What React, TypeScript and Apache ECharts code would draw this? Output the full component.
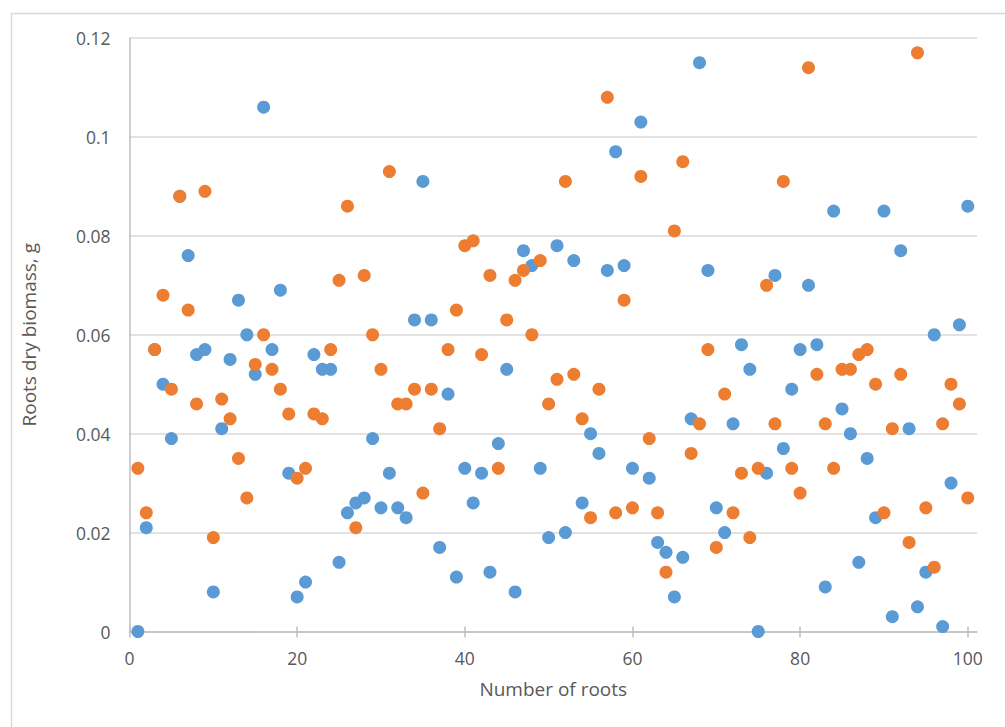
import { useEffect, useRef } from "react";
import * as echarts from "echarts";

const rootNumbers = [
  1, 2, 3, 4, 5, 6, 7, 8, 9, 10, 11, 12, 13, 14, 15, 16, 17, 18, 19, 20,
  21, 22, 23, 24, 25, 26, 27, 28, 29, 30, 31, 32, 33, 34, 35, 36, 37, 38, 39, 40,
  41, 42, 43, 44, 45, 46, 47, 48, 49, 50, 51, 52, 53, 54, 55, 56, 57, 58, 59, 60,
  61, 62, 63, 64, 65, 66, 67, 68, 69, 70, 71, 72, 73, 74, 75, 76, 77, 78, 79, 80,
  81, 82, 83, 84, 85, 86, 87, 88, 89, 90, 91, 92, 93, 94, 95, 96, 97, 98, 99, 100,
];

const blueBiomass = [
  0, 0.021, 0.057, 0.05, 0.039, 0.088, 0.076, 0.056, 0.057, 0.008,
  0.041, 0.055, 0.067, 0.06, 0.052, 0.106, 0.057, 0.069, 0.032, 0.007,
  0.01, 0.056, 0.053, 0.053, 0.014, 0.024, 0.026, 0.027, 0.039, 0.025,
  0.032, 0.025, 0.023, 0.063, 0.091, 0.063, 0.017, 0.048, 0.011, 0.033,
  0.026, 0.032, 0.012, 0.038, 0.053, 0.008, 0.077, 0.074, 0.033, 0.019,
  0.078, 0.02, 0.075, 0.026, 0.04, 0.036, 0.073, 0.097, 0.074, 0.033,
  0.103, 0.031, 0.018, 0.016, 0.007, 0.015, 0.043, 0.115, 0.073, 0.025,
  0.02, 0.042, 0.058, 0.053, 0, 0.032, 0.072, 0.037, 0.049, 0.057,
  0.07, 0.058, 0.009, 0.085, 0.045, 0.04, 0.014, 0.035, 0.023, 0.085,
  0.003, 0.077, 0.041, 0.005, 0.012, 0.06, 0.001, 0.03, 0.062, 0.086,
];

const orangeBiomass = [
  0.033, 0.024, 0.057, 0.068, 0.049, 0.088, 0.065, 0.046, 0.089, 0.019,
  0.047, 0.043, 0.035, 0.027, 0.054, 0.06, 0.053, 0.049, 0.044, 0.031,
  0.033, 0.044, 0.043, 0.057, 0.071, 0.086, 0.021, 0.072, 0.06, 0.053,
  0.093, 0.046, 0.046, 0.049, 0.028, 0.049, 0.041, 0.057, 0.065, 0.078,
  0.079, 0.056, 0.072, 0.033, 0.063, 0.071, 0.073, 0.06, 0.075, 0.046,
  0.051, 0.091, 0.052, 0.043, 0.023, 0.049, 0.108, 0.024, 0.067, 0.025,
  0.092, 0.039, 0.024, 0.012, 0.081, 0.095, 0.036, 0.042, 0.057, 0.017,
  0.048, 0.024, 0.032, 0.019, 0.033, 0.07, 0.042, 0.091, 0.033, 0.028,
  0.114, 0.052, 0.042, 0.033, 0.053, 0.053, 0.056, 0.057, 0.05, 0.024,
  0.041, 0.052, 0.018, 0.117, 0.025, 0.013, 0.042, 0.05, 0.046, 0.027,
];

const xTickValues = [0, 20, 40, 60, 80, 100];
const xAxisTitle = "Number of roots";
const yAxisTitle = "Roots dry biomass, g";

const TEXT = "#595959";
const AXIS = "#BFBFBF";
const GRID = "#D9D9D9";
const FONT = "'Open Sans', sans-serif";

export default function App() {
  const ref = useRef<HTMLDivElement>(null);

  useEffect(() => {
    document.body.style.margin = "0";
    const chart = echarts.init(ref.current!, null, { renderer: "svg" });
    const xMax = 101.1;
    chart.setOption({
      animation: false,
      backgroundColor: "#ffffff",
      textStyle: { fontFamily: FONT },
      grid: {
        left: 129.5,
        right: 28,
        top: 38,
        bottom: 95.5,
        containLabel: false,
        outerBoundsMode: "none",
      },
      graphic: [
        {
          type: "rect",
          silent: true,
          shape: { x: 11.5, y: 13.5, width: 1200, height: 900 },
          style: { fill: "none", stroke: GRID, lineWidth: 1.5 },
        },
      ],
      xAxis: [
        {
          type: "value",
          position: "bottom",
          min: 0,
          max: xMax,
          interval: 20,
          axisLine: { show: true, lineStyle: { color: AXIS, width: 1.5 } },
          axisTick: {
            show: true,
            customValues: xTickValues,
            length: 6,
            lineStyle: { color: AXIS, width: 1.5 },
          },
          axisLabel: {
            customValues: xTickValues,
            color: TEXT,
            fontSize: 17.5,
            fontFamily: FONT,
            margin: 17,
          },
          splitLine: { show: false },
          name: xAxisTitle,
          nameLocation: "middle",
          nameGap: 48,
          nameTextStyle: { color: TEXT, fontSize: 19, fontFamily: FONT },
        },
        {
          type: "value",
          position: "bottom",
          min: 0,
          max: xMax,
          interval: 20,
          axisLine: { show: false },
          axisTick: {
            show: true,
            inside: true,
            customValues: xTickValues,
            length: 5,
            lineStyle: { color: AXIS, width: 1.5 },
          },
          axisLabel: { show: false },
          splitLine: { show: false },
        },
      ],
      yAxis: {
        type: "value",
        min: 0,
        max: 0.12,
        interval: 0.02,
        axisLine: { show: true, lineStyle: { color: AXIS, width: 1.5 } },
        axisTick: { show: false },
        axisLabel: {
          color: TEXT,
          fontSize: 17.5,
          fontFamily: FONT,
          margin: 19,
        },
        splitLine: { show: true, lineStyle: { color: GRID, width: 1.5 } },
        name: yAxisTitle,
        nameLocation: "middle",
        nameRotate: 90,
        nameGap: 91,
        nameTextStyle: { color: TEXT, fontSize: 19, fontFamily: FONT },
      },
      series: [
        {
          type: "scatter",
          xAxisIndex: 0,
          symbol: "circle",
          symbolSize: 13,
          itemStyle: { color: "#5B9BD5", opacity: 1 },
          data: blueBiomass.map((v, i) => [rootNumbers[i], v]),
        },
        {
          type: "scatter",
          xAxisIndex: 0,
          symbol: "circle",
          symbolSize: 13,
          itemStyle: { color: "#ED7D31", opacity: 1 },
          data: orangeBiomass.map((v, i) => [rootNumbers[i], v]),
        },
      ],
    });
    return () => chart.dispose();
  }, []);

  return (
    <div
      ref={ref}
      style={{
        position: "fixed",
        left: 0,
        top: 0,
        width: 1005,
        height: 727,
        background: "#ffffff",
      }}
    />
  );
}
